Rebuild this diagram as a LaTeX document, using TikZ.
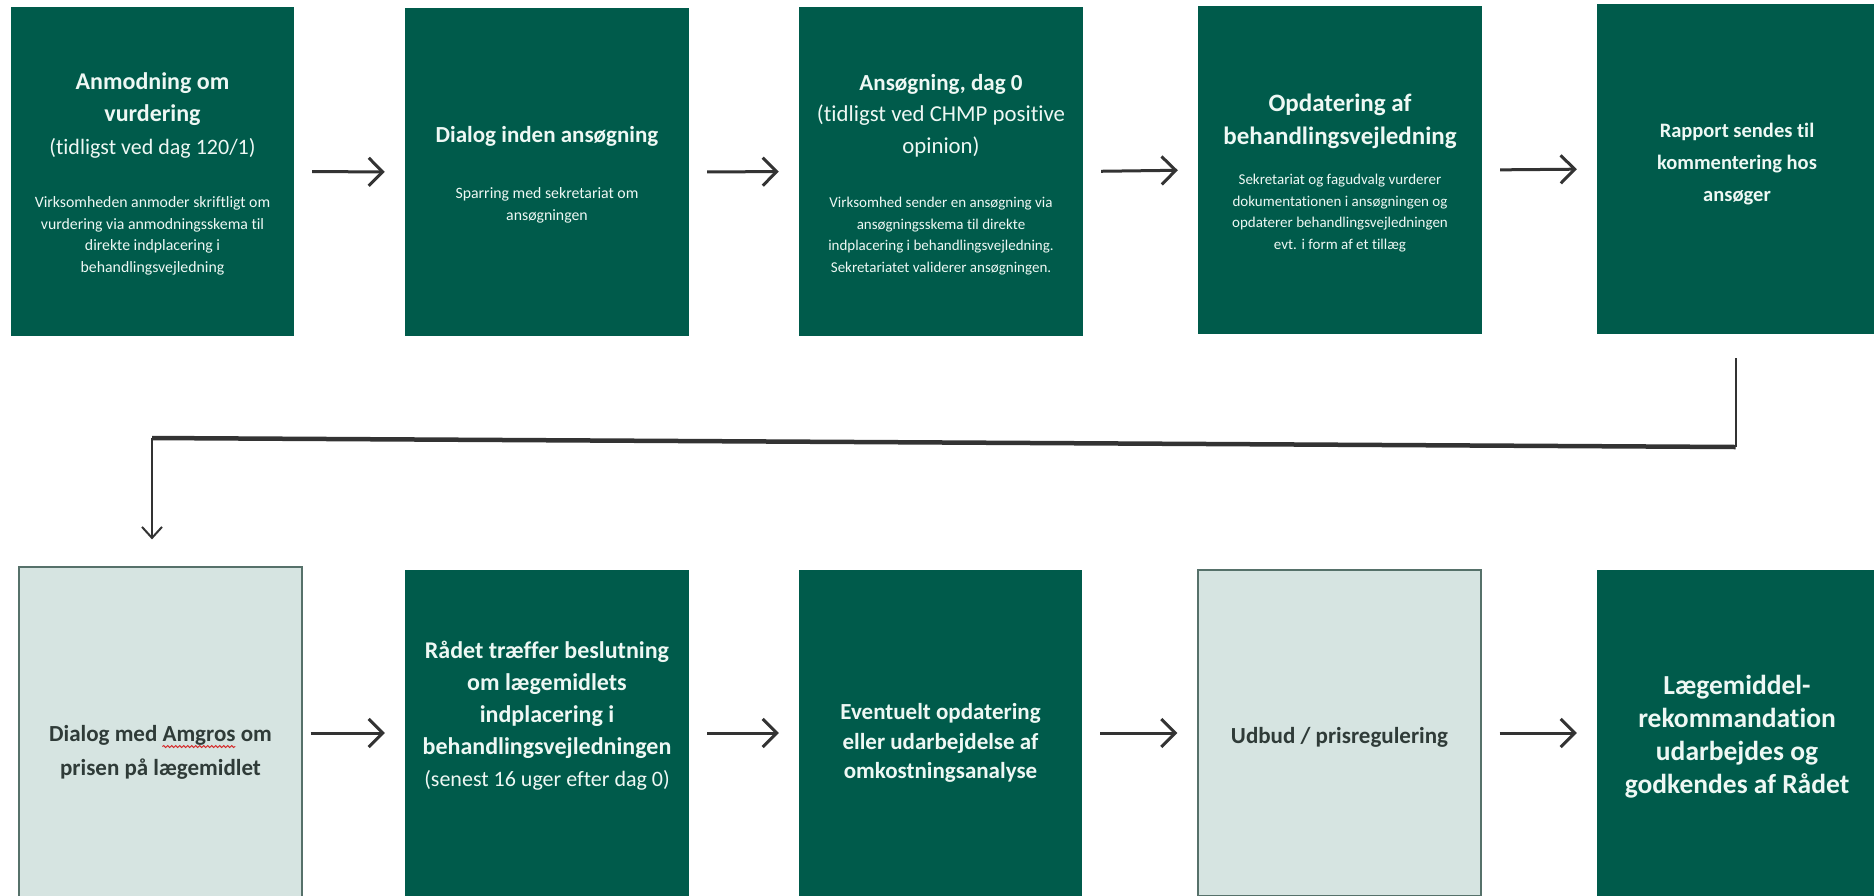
\documentclass[tikz,border=0pt]{standalone}
\usepackage{fontspec}
\setmainfont{Carlito}[Ligatures={NoCommon}]
\usetikzlibrary{arrows.meta,decorations.pathmorphing}
\definecolor{dkgreen}{HTML}{005B4B}
\definecolor{ltgreen}{HTML}{D6E4E1}
\definecolor{ltborder}{HTML}{56716A}
\definecolor{mint}{HTML}{EEF8F4}
\definecolor{dktext}{HTML}{2F3B38}
\definecolor{arrowgray}{HTML}{333333}
\definecolor{wavered}{HTML}{D42A2A}
\newlength\wavepre
\newlength\wavelen
\newcommand\ttlfont{\bfseries\fontsize{23}{32.5}\selectfont}
\tikzset{
  darkbox/.style={fill=dkgreen, draw=none, inner sep=0pt},
  lightbox/.style={fill=ltgreen, draw=ltborder, line width=1.2pt, inner sep=0pt},
  ttl/.style={text=mint, align=center, inner sep=0pt, font=\ttlfont},
  dttl/.style={ttl, text=dktext},
  sub/.style={text=mint, align=center, inner sep=0pt, font=\fontsize{22}{32}\selectfont},
  body/.style={text=mint, align=center, inner sep=0pt, font=\fontsize{15}{21.7}\selectfont},
  flow/.style={draw=arrowgray, line width=3pt, -{Straight Barb[length=14pt,width=28pt]}, shorten <=18pt, shorten >=20pt},
  conn/.style={draw=arrowgray, line width=2pt},
  spellwave/.style={draw=wavered, line width=0.9pt, decorate, decoration={snake, amplitude=1pt, segment length=4pt}},
}
\begin{document}
% measure for the spell-check wave under "Amgros"
\setbox0\hbox{\ttlfont Dialog med }\global\wavepre=\wd0
\setbox0\hbox{\ttlfont Amgros}\global\wavelen=\wd0
\begin{tikzpicture}[x=1pt,y=-1pt]
\useasboundingbox (0,0) rectangle (1874,895);
\fill[white] (0,0) rectangle (1874,895);

% top row boxes
\node[darkbox, minimum width=283pt, minimum height=329pt] (b1) at (152.5,171.5) {};
\node[darkbox, minimum width=284pt, minimum height=328pt] (b2) at (547,172) {};
\node[darkbox, minimum width=284pt, minimum height=329pt] (b3) at (941,171.5) {};
\node[darkbox, minimum width=284pt, minimum height=328pt] (b4) at (1340,170) {};
\node[darkbox, minimum width=277pt, minimum height=330pt] (b5) at (1735.5,169) {};

% top row texts
\node[ttl, font=\bfseries\fontsize{24}{32.5}\selectfont] (h1) at (152.5,99) {Anmodning om\\vurdering};
\node[sub] (p1) at (152.5,148) {(tidligst ved dag 120/1)};
\node[body, font=\fontsize{15.8}{21.7}\selectfont] (s1) at (152.5,236) {Virksomheden anmoder skriftligt om\\vurdering via anmodningsskema til\\direkte indplacering i\\behandlingsvejledning};

\node[ttl] (h2) at (547,136) {Dialog inden ansøgning};
\node[body, font=\fontsize{15.8}{22}\selectfont] (s2) at (547,205) {Sparring med sekretariat om\\ansøgningen};

\node[ttl] (h3) at (941,84) {Ansøgning, dag 0};
\node[sub, font=\fontsize{22.8}{32}\selectfont] (p3) at (941,131) {(tidligst ved CHMP positive\\opinion)};
\node[body] (s3) at (941,236) {Virksomhed sender en ansøgning via\\ansøgningsskema til direkte\\indplacering i behandlingsvejledning.\\Sekretariatet validerer ansøgningen.};

\node[ttl, font=\bfseries\fontsize{25}{33}\selectfont] (h4) at (1340,121) {Opdatering af\\behandlingsvejledning};
\node[body] (s4) at (1340,213) {Sekretariat og fagudvalg vurderer\\dokumentationen i ansøgningen og\\opdaterer behandlingsvejledningen\\evt. i form af et tillæg};

\node[ttl, font=\bfseries\fontsize{20.5}{32}\selectfont] (h5) at (1737,164) {Rapport sendes til\\kommentering hos\\ansøger};

% bottom row boxes
\node[lightbox, minimum width=283pt, minimum height=332pt] (b6) at (160.5,733) {};
\node[darkbox, minimum width=284pt, minimum height=326pt] (b7) at (547,733) {};
\node[darkbox, minimum width=283pt, minimum height=326pt] (b8) at (940.5,733) {};
\node[lightbox, minimum width=283pt, minimum height=326pt] (b9) at (1339.5,733) {};
\node[darkbox, minimum width=277pt, minimum height=326pt] (b10) at (1735.5,733) {};

% bottom row texts
\node[dttl, anchor=base] (h6a) at (160.5,741) {Dialog med Amgros om};
\node[dttl, anchor=base] (h6b) at (160.5,775) {prisen på lægemidlet};
\coordinate (w0) at ([xshift=\wavepre, yshift=-5.5pt]h6a.base west);
\coordinate (w1) at ([xshift=\wavepre+\wavelen, yshift=-5.5pt]h6a.base west);
\draw[spellwave] (w0) -- (w1);
\node[ttl, font=\bfseries\fontsize{24}{32}\selectfont] (h7) at (547,700) {Rådet træffer beslutning\\om lægemidlets\\indplacering i\\behandlingsvejledningen};
\node[sub] (p7) at (547,780) {(senest 16 uger efter dag 0)};
\node[ttl, font=\bfseries\fontsize{23}{29.5}\selectfont] (h8) at (940.5,743) {Eventuelt opdatering\\eller udarbejdelse af\\omkostningsanalyse};
\node[dttl] (h9) at (1339.5,737) {Udbud / prisregulering};
\node[ttl, font=\bfseries\fontsize{27.5}{33}\selectfont] (h10) at (1737,737) {Lægemiddel-\\rekommandation\\udarbejdes og\\godkendes af Rådet};

% top row arrows
\draw[flow] (b1.east) -- (b2.west);
\draw[flow] (b2.east) -- (b3.west);
\draw[flow] (b3.east) -- (b4.west);
\draw[flow] (b4.east) -- (b5.west);

% bottom row arrows
\draw[flow, shorten <=8pt] (b6.east) -- (b7.west);
\draw[flow] (b7.east) -- (b8.west);
\draw[flow] (b8.east) -- (b9.west);
\draw[flow] (b9.east) -- (b10.west);

% connector from row 1 to row 2
\coordinate (k1) at (1735.5,447);
\coordinate (k2) at (152,438);
\draw[conn, shorten <=24pt] (b5.south) -- (k1);
\draw[conn, line width=4.5pt] (k1) -- (k2);
\draw[conn, -{Straight Barb[length=11pt,width=20pt]}, shorten >=27pt] (k2) -- (k2 |- b6.north);
\end{tikzpicture}
\end{document}
